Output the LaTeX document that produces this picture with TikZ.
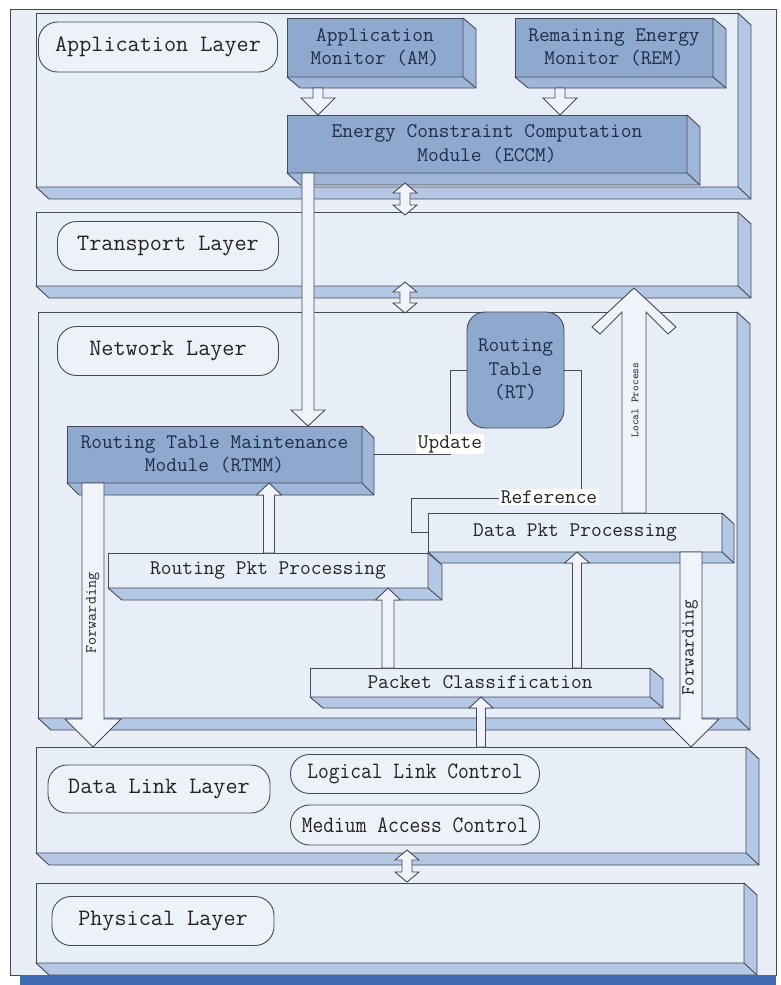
\documentclass[tikz,border=0pt]{standalone}
\usepackage{fontspec}
\usepackage{graphicx}
\usetikzlibrary{calc}

\definecolor{framefill}{HTML}{EAEFF7}
\definecolor{layerfill}{HTML}{E8EEF7}
\definecolor{facefill}{HTML}{B4C7E5}
\definecolor{darkfront}{HTML}{8EA8CE}
\definecolor{darkface}{HTML}{A0B6D8}
\definecolor{pillfill}{HTML}{EDF1F8}
\definecolor{arrowfill}{HTML}{F0F3FA}
\definecolor{edge}{HTML}{454B55}
\definecolor{navytext}{HTML}{1E2D4C}
\definecolor{inktext}{HTML}{232323}
\definecolor{band}{HTML}{3E6BB4}

\tikzset{
  sized/.style 2 args={minimum width=#1pt, minimum height=#2pt, inner sep=0pt, outer sep=0pt},
  slabbox/.style={draw=edge, fill=layerfill, line width=0.9pt},
  darkbox/.style={draw=edge, fill=darkfront, line width=0.9pt, text=navytext, align=center,
    font=\ttfamily\fontsize{20.8}{23.5}\selectfont},
  lightbox/.style={draw=edge, fill=layerfill, line width=0.9pt, text=inktext,
    font=\ttfamily\fontsize{20.8}{23.5}\selectfont},
  pill/.style={draw=edge, fill=pillfill, line width=0.9pt, rounded corners=19pt, text=inktext,
    font=\ttfamily\fontsize{23.5}{26}\selectfont},
  blk/.style={draw=edge, fill=arrowfill, line width=0.9pt, line join=miter},
  conn/.style={draw=edge, line width=0.9pt},
  tag/.style={fill=white, inner sep=1.5pt, text=inktext, font=\ttfamily\fontsize{20.8}{23.5}\selectfont},
  sidelabel/.style={rotate=90, inner sep=0pt, text=inktext},
}

% 3-D extrusion (right and bottom faces) of a box node
\newcommand\extr[4]{%
  \filldraw[draw=edge, fill=#2, line width=0.9pt, line join=round]
    (#1.north east) -- ++(#3,#4) -- ([shift={(#3,#4)}]#1.south east)
    -- ([shift={(#3,#4)}]#1.south west) -- (#1.south west) -- (#1.south east) -- cycle;
  \draw[edge, line width=0.9pt] (#1.south east) -- ++(#3,#4);}

% hollow block arrow: tail, tip, shaft half width, head half width, head length
\newcommand\varrow[5]{%
  \draw[blk] let \p1=(#1), \p2=(#2), \n1={ifthenelse(\y2>\y1,1,-1)*#5} in
    ({\x2-#3},\y1) -- ({\x2-#3},{\y2-(\n1)}) -- ({\x2-#4},{\y2-(\n1)}) -- (\p2)
    -- ({\x2+#4},{\y2-(\n1)}) -- ({\x2+#3},{\y2-(\n1)}) -- ({\x2+#3},\y1) -- cycle;}

% small two-headed arrow between stacked layers: upper tip, lower tip
\newcommand\dblarrow[2]{%
  \draw[blk] let \p1=(#1), \p2=(#2) in
    (\p1) -- ({\x1+12pt},{\y1-10pt}) -- ({\x1+5pt},{\y1-10pt}) -- ({\x1+5pt},{\y2+10pt})
    -- ({\x1+12pt},{\y2+10pt}) -- (\x1,\y2) -- ({\x1-12pt},{\y2+10pt}) -- ({\x1-5pt},{\y2+10pt})
    -- ({\x1-5pt},{\y1-10pt}) -- ({\x1-12pt},{\y1-10pt}) -- cycle;}

\begin{document}
\begin{tikzpicture}[x=1pt,y=-1pt]
\useasboundingbox (0,0) rectangle (781,985);

% outer frame with its dark bottom edge
\node[sized={766}{966}, draw=edge, fill=framefill, line width=0.9pt] (frame) at (393,492) {};
\fill[band] ([xshift=10pt]frame.south west) rectangle ([yshift=-10pt]frame.south east);

% protocol layers
\node[slabbox, sized={702}{174}] (app) at (387,100) {};
\extr{app}{facefill}{13}{12}
\node[slabbox, sized={702}{74}] (trans) at (387,249) {};
\extr{trans}{facefill}{13}{12}
\node[slabbox, sized={699}{406}] (net) at (387.5,515) {};
\extr{net}{facefill}{13}{12}
\node[slabbox, sized={710}{106}] (dl) at (391,800) {};
\extr{dl}{facefill}{13}{12}
\node[slabbox, sized={708}{80}] (phys) at (390,923) {};
\extr{phys}{facefill}{13}{12}

% layer names
\node[pill, sized={239}{50}] (appname) at (158,47) {Application Layer};
\node[pill, sized={221}{49}] (transname) at (168,246) {Transport Layer};
\node[pill, sized={221}{49}] (netname) at (168,351) {Network Layer};
\node[pill, sized={222}{48}] (dlname) at (159,789) {Data Link Layer};
\node[pill, sized={249}{39}] (llc) at (415,774) {\scalebox{0.89}[1]{Logical Link Control}};
\node[pill, sized={249}{40}] (mac) at (415,825) {\scalebox{0.89}[1]{Medium Access Control}};
\node[pill, sized={222}{49}] (physname) at (163,921) {Physical Layer};

% application layer modules
\node[darkbox, sized={176}{59}] (am) at (375,47.5) {Application\\Monitor (AM)};
\extr{am}{darkface}{13}{11}
\node[darkbox, sized={198}{59}] (rem) at (614,47.5) {Remaining Energy\\Monitor (REM)};
\extr{rem}{darkface}{13}{11}
\node[darkbox, sized={400}{58}] (eccm) at (487,144) {Energy Constraint Computation\\Module (ECCM)};
\extr{eccm}{darkface}{13}{12}
\varrow{$(am.south west)+(31,11)$}{$(eccm.north west)+(31,0)$}{5pt}{17pt}{17pt}
\varrow{$(rem.south west)+(45,11)$}{$(eccm.north west)+(273,0)$}{5pt}{17pt}{17pt}

% links between layers
\dblarrow{$(app.south west)+(369,-4)$}{$(trans.north west)+(369,3)$}
\dblarrow{$(trans.south west)+(369,-4)$}{$(net.north west)+(367,1)$}
\dblarrow{$(dl.south west)+(371,-3)$}{$(phys.north west)+(371,-1)$}

% network layer modules
\node[darkbox, sized={97}{116}, rounded corners=18pt] (rt) at (515.5,370) {Routing\\Table\\(RT)};
\node[darkbox, sized={295}{57}] (rtmm) at (214.5,454.5) {Routing Table Maintenance\\Module (RTMM)};
\extr{rtmm}{darkface}{12}{12}

\varrow{$(eccm.south west)+(21,0)$}{$(rtmm.north west)+(241,0)$}{6pt}{17pt}{16pt}

\node[lightbox, sized={320}{35}] (rpp) at (268,570.5) {Routing Pkt Processing};
\extr{rpp}{facefill}{14}{12}
\node[lightbox, sized={294}{39}] (dpp) at (575,532.5) {Data Pkt Processing};
\extr{dpp}{facefill}{12}{11}
\node[lightbox, sized={340}{29}] (pc) at (480,682.5) {Packet Classification};
\extr{pc}{facefill}{13}{11}

% table update and lookup
\draw[conn] ([xshift=12pt]rtmm.east) -| ($(rt.west)+(-17,0)$) -- (rt.west);
\node[tag] (upd) at (450,444) {Update};
\draw[conn] (rt.east) -- ++(17,0) |- ($(dpp.west)+(-17,-34)$) |- (dpp.west);
\node[tag] (refl) at (549,497) {Reference};

% packet paths
\varrow{$(rpp.north west)+(161,0)$}{$(rtmm.south west)+(202,0)$}{5.5pt}{12.5pt}{12pt}
\varrow{$(pc.north west)+(78,0)$}{$(rpp.south west)+(280,0)$}{6pt}{12.5pt}{12pt}
\varrow{$(pc.north west)+(267,0)$}{$(dpp.south west)+(149,0)$}{4.5pt}{12.5pt}{11pt}
\varrow{$(dl.north west)+(445,0)$}{$(pc.south west)+(171,0)$}{4.5pt}{12pt}{11pt}

% forwarding paths down to the data link layer
\varrow{$(rtmm.south west)+(26,0)$}{$(dl.north west)+(57,0)$}{11pt}{28pt}{28pt}
\node[sidelabel, font=\ttfamily\fontsize{15.6}{18}\selectfont] (fwdl) at (93,613) {Forwarding};
\varrow{$(dpp.south west)+(263,0)$}{$(dl.north west)+(655,0)$}{11pt}{28pt}{28pt}
\node[sidelabel, font=\ttfamily\fontsize{18.5}{20}\selectfont] (fwdr) at (690,648) {Forwarding};

% local delivery up to the transport layer
\draw[blk] let \p1=($(dpp.north west)+(206,0)$), \p2=($(trans.south west)+(598,2)$) in
  (\p2) -- ({\x2+42pt},{\y2-39pt}) -- ({\x2+34pt},{\y2-46pt}) -- ({\x2+12pt},{\y2-24pt})
  -- ({\x2+12pt},\y1) -- ({\x2-12pt},\y1) -- ({\x2-12pt},{\y2-24pt})
  -- ({\x2-34pt},{\y2-46pt}) -- ({\x2-42pt},{\y2-39pt}) -- cycle;
\node[sidelabel, font=\ttfamily\fontsize{10.9}{12}\selectfont] (locl) at (635,400) {Local Process};

\end{tikzpicture}
\end{document}
